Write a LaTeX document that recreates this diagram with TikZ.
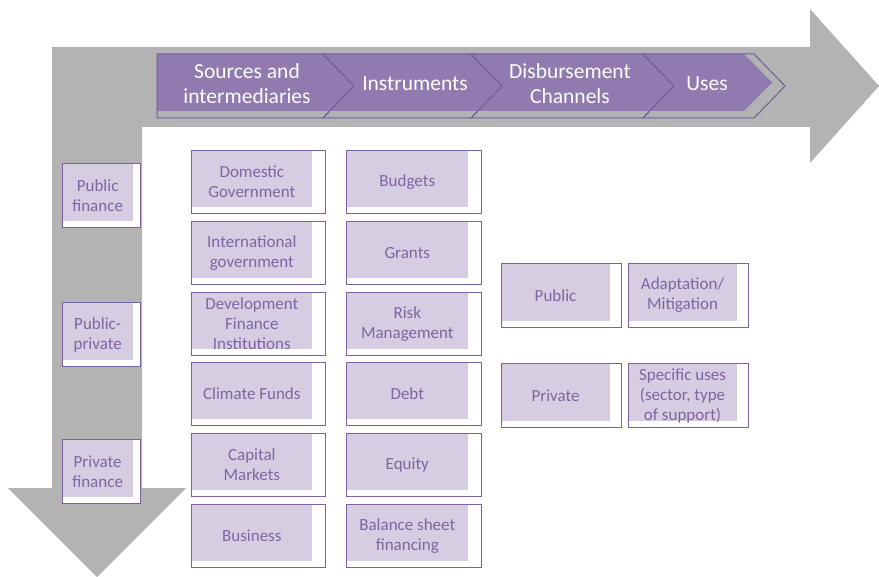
\documentclass[tikz,border=0pt]{standalone}
\usepackage{fontspec}
\newfontfamily\calibri{Carlito}
\usetikzlibrary{calc}

\definecolor{arrowgray}{RGB}{179,179,179}
\definecolor{chevfill}{RGB}{145,122,176}
\definecolor{chevline}{RGB}{116,92,150}
\definecolor{boxfill}{RGB}{214,205,227}
\definecolor{boxline}{RGB}{125,98,160}
\definecolor{boxtext}{RGB}{128,100,162}

\tikzset{
    catbox/.style={draw=boxline, line width=1.1pt, fill=white, inner sep=0pt,
        minimum width=#1, minimum height=63, anchor=north west, text=boxtext,
        font=\calibri\fontsize{17}{20}\selectfont,
        path picture={\fill[boxfill] (path picture bounding box.north west) rectangle
            ($(path picture bounding box.north west)!0.9!(path picture bounding box.south east)$);},
        execute at begin node={\begin{minipage}{0.9\dimexpr#1pt\relax}\centering},
        execute at end node={\end{minipage}\hspace*{0.1\dimexpr#1pt\relax}}},
    chevlabel/.style={text=white, font=\calibri\fontsize{21.5}{25}\selectfont, align=center},
}

\begin{document}
\begin{tikzpicture}[x=1pt, y=-1pt]
            \useasboundingbox (0,0) rectangle (879,577);
            % big corner arrow
            \fill[arrowgray] (52,47) -- (810,47) -- (810,9) -- (879,86) -- (810,163) -- (810,127)
                -- (142,127) -- (142,488) -- (186,488) -- (97,577) -- (8,488) -- (52,488) -- cycle;
            % chevrons: left x / outline width / fill width / notch
            \foreach \x/\w/\f/\n in {157/166/166/0, 323/148/148/1, 471/172/172/1, 643/111/101/1} {
                \begin{scope}[shift={(\x,54)}]
                    \fill[chevfill] (0,0) -- (\f,0) -- (\f+28,28.5) -- (\f,57) -- (0,57) -- (28*\n,28.5) -- cycle;
                    \draw[chevline, line width=1pt] (0,0) -- (\w,0) -- (\w+31,32) -- (\w,64) -- (0,64) -- (31*\n,32) -- cycle;
                \end{scope}
            }
            \node[chevlabel] (sources) at (247,84) {Sources and\\intermediaries};
            \node[chevlabel] (instruments) at (415,84) {Instruments};
            \node[chevlabel] (channels) at (570,84) {Disbursement\\Channels};
            \node[chevlabel] (uses) at (707,84) {Uses};
            % kinds of finance
            \node[catbox=78, minimum height=64] (publicfin) at (62,163) {Public\\finance};
            \node[catbox=78, minimum height=64] (publicprivate) at (62,302) {Public-\\private};
            \node[catbox=78, minimum height=64] (privatefin) at (62,439) {Private\\finance};
            % sources
            \node[catbox=134] (domestic) at (191,150) {Domestic\\Government};
            \node[catbox=134] (international) at (191,221) {International\\government};
            \node[catbox=134] (dfi) at (191,292) {Development\\Finance\\Institutions};
            \node[catbox=134] (climate) at (191,362) {Climate Funds};
            \node[catbox=134] (capital) at (191,433) {Capital\\Markets};
            \node[catbox=134] (business) at (191,504) {Business};
            % instruments
            \node[catbox=135] (budgets) at (346,150) {Budgets};
            \node[catbox=135] (grants) at (346,221) {Grants};
            \node[catbox=135] (risk) at (346,292) {Risk\\Management};
            \node[catbox=135] (debt) at (346,362) {Debt};
            \node[catbox=135] (equity) at (346,433) {Equity};
            \node[catbox=135] (balance) at (346,504) {Balance sheet\\financing};
            % channels and uses
            \node[catbox=120, minimum height=64] (publicch) at (501,263) {Public};
            \node[catbox=120, minimum height=64] (privatech) at (501,363) {Private};
            \node[catbox=120, minimum height=64] (adaptation) at (628,263) {Adaptation/\\Mitigation};
            \node[catbox=120, minimum height=64] (specific) at (628,363) {Specific uses\\(sector, type\\of support)};
        \end{tikzpicture}
\end{document}
